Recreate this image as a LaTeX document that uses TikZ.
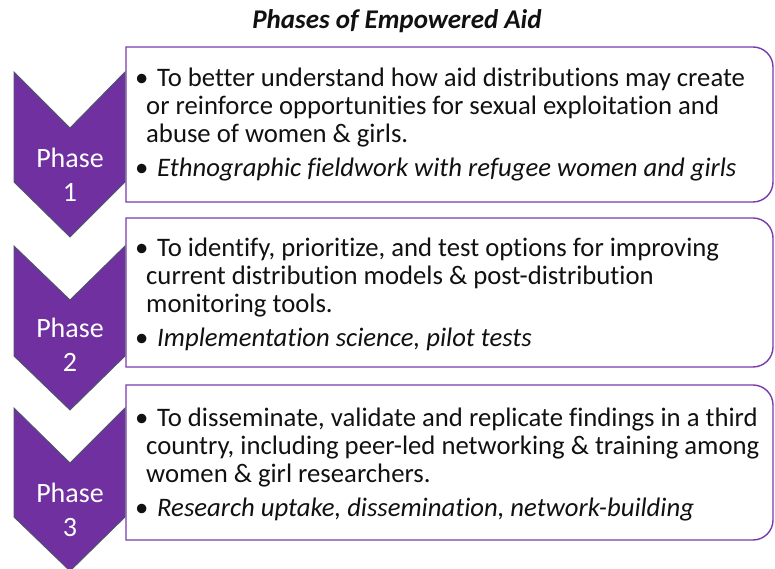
\documentclass[tikz,border=0pt]{standalone}
\usepackage{fontspec}
\setmainfont{Carlito}[Ligatures={NoCommon,NoRequired,NoContextual}]
\definecolor{phasepurple}{HTML}{7030A0}
\definecolor{chevedge}{HTML}{4A5868}
\definecolor{boxedge}{HTML}{7A3AAE}
\definecolor{txt}{HTML}{111111}
\newcommand{\bul}{\leavevmode\llap{\makebox[11pt][l]{•}}\hspace*{11pt}}
\tikzset{
  chev/.style={fill=phasepurple, draw=chevedge, line width=0.9pt, line join=miter},
  phasebox/.style={draw=boxedge, line width=1.4pt, fill=white},
  phasetxt/.style={text=white, font=\fontsize{28}{34}\selectfont, inner sep=0pt, anchor=base},
  bodytxt/.style={text=txt, inner sep=0pt, anchor=base west},
  titletxt/.style={text=txt, font=\fontsize{27}{30}\selectfont\bfseries\itshape, inner sep=0pt, anchor=base}
}
\begin{document}
\begin{tikzpicture}[x=1pt,y=1pt]
\useasboundingbox (0,0) rectangle (775,569);
% title
\node[titletxt] (title) at (397,540) {Phases of Empowered Aid};
% boxes
\draw[phasebox] (126,522) -- (753,522) arc[start angle=90,end angle=0,radius=20] -- (773,387) arc[start angle=0,end angle=-90,radius=20] -- (126,367) -- cycle;
\draw[phasebox] (126,351) -- (753,351) arc[start angle=90,end angle=0,radius=20] -- (773,222) arc[start angle=0,end angle=-90,radius=20] -- (126,202) -- cycle;
\draw[phasebox] (126,184) -- (753,184) arc[start angle=90,end angle=0,radius=20] -- (773,49) arc[start angle=0,end angle=-90,radius=20] -- (126,29) -- cycle;
% chevrons
\draw[chev] (14,497) -- (70,441) -- (125,497) -- (125,387) -- (70,332) -- (14,387) -- cycle;
\draw[chev] (14,323) -- (70,269) -- (125,323) -- (125,213) -- (70,159) -- (14,213) -- cycle;
\draw[chev] (14,161) -- (70,106) -- (125,161) -- (125,52) -- (70,-2) -- (14,52) -- cycle;
% phase labels
\node[phasetxt] (p1a) at (70,401) {Phase};
\node[phasetxt] (p1b) at (70,367) {1};
\node[phasetxt] (p2a) at (70,231) {Phase};
\node[phasetxt] (p2b) at (70,197) {2};
\node[phasetxt] (p3a) at (70,66) {Phase};
\node[phasetxt] (p3b) at (70,32) {3};
% body texts
\node[bodytxt] (t1) at (146,482) {\parbox[t]{625pt}{\fontsize{26.7}{27.7}\selectfont
\bul To better understand how aid distributions may create\\
or reinforce opportunities for sexual exploitation and\\
abuse of women \& girls.\\[6.5pt]
\bul\textit{Ethnographic fieldwork with refugee women and girls}}};
\node[bodytxt] (t2) at (146,312) {\parbox[t]{625pt}{\fontsize{26.7}{27.7}\selectfont
\bul To identify, prioritize, and test options for improving\\
current distribution models \& post-distribution\\
monitoring tools.\\[6.5pt]
\bul\textit{Implementation science, pilot tests}}};
\node[bodytxt] (t3) at (146,142) {\parbox[t]{625pt}{\fontsize{26.7}{27.7}\selectfont
\bul To disseminate, validate and replicate findings in a third\\
country, including peer-led networking \& training among\\
women \& girl researchers.\\[6.5pt]
\bul\textit{Research uptake, dissemination, network-building}}};
\end{tikzpicture}
\end{document}
